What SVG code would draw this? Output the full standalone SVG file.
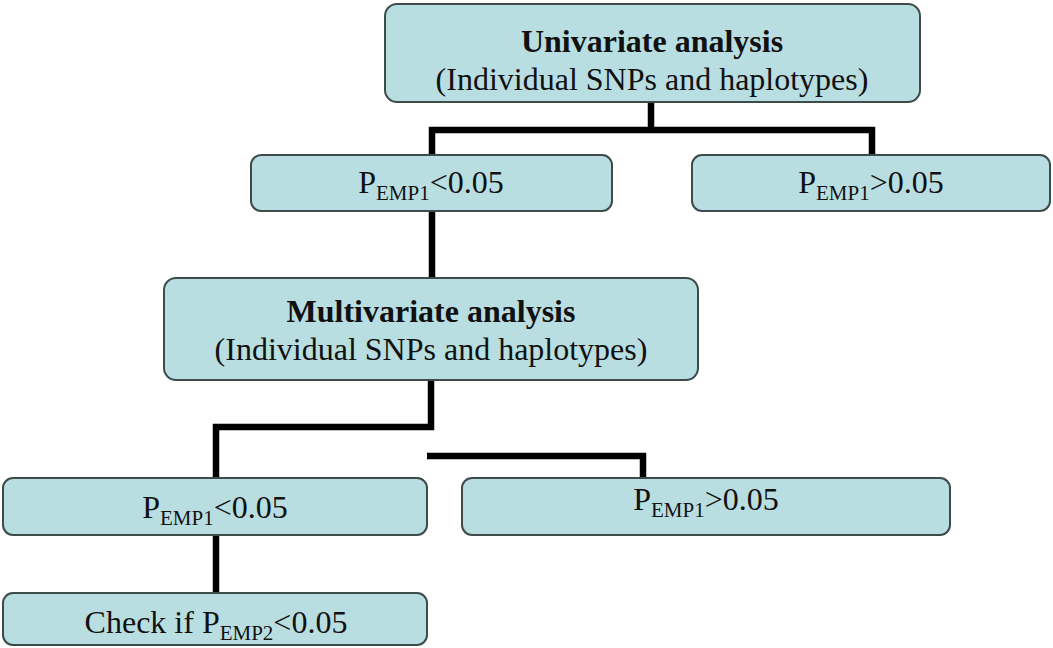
<svg xmlns="http://www.w3.org/2000/svg" width="1053" height="648" viewBox="0 0 1053 648">
<style>
.box{fill:#b9dee1;stroke:#3f4b4b;stroke-width:2}
.t{font-family:"Liberation Serif","Times New Roman",serif;font-size:32px;fill:#111;text-anchor:middle}
.b{font-weight:bold}
.sub{font-size:21px}
.c{fill:none;stroke:#000;stroke-width:6.5;stroke-linecap:butt;stroke-linejoin:miter}
</style>
<rect width="1053" height="648" fill="#fff"/>
<g id="connectors">
<path class="c" d="M432,278 V130 H872 V155 M651,102 V130"/>
<path class="c" d="M431,380 V427 H216 V478"/>
<path class="c" d="M427,456 H643 V478"/>
<path class="c" d="M216,535 V593"/>
</g>
<g id="univariate">
<rect class="box" x="385" y="4" width="535" height="98" rx="12"/>
<text class="t b" x="652" y="52">Univariate analysis</text>
<text class="t" x="652" y="90">(Individual SNPs and haplotypes)</text>
</g>
<g id="p1-lt">
<rect class="box" x="251" y="155" width="361" height="56" rx="10"/>
<text class="t" x="431" y="193">P<tspan class="sub" dy="7">EMP1</tspan><tspan dy="-7">&lt;0.05</tspan></text>
</g>
<g id="p1-gt">
<rect class="box" x="692" y="155" width="358" height="56" rx="10"/>
<text class="t" x="871" y="193">P<tspan class="sub" dy="7">EMP1</tspan><tspan dy="-7">&gt;0.05</tspan></text>
</g>
<g id="multivariate">
<rect class="box" x="164" y="278" width="534" height="102" rx="12"/>
<text class="t b" x="431" y="322">Multivariate analysis</text>
<text class="t" x="431" y="360">(Individual SNPs and haplotypes)</text>
</g>
<g id="p2-lt">
<rect class="box" x="3" y="478" width="424" height="57" rx="10"/>
<text class="t" x="215" y="518">P<tspan class="sub" dy="7">EMP1</tspan><tspan dy="-7">&lt;0.05</tspan></text>
</g>
<g id="p2-gt">
<rect class="box" x="462" y="478" width="488" height="57" rx="10"/>
<text class="t" x="706" y="510">P<tspan class="sub" dy="7">EMP1</tspan><tspan dy="-7">&gt;0.05</tspan></text>
</g>
<g id="check">
<rect class="box" x="3" y="593" width="424" height="52" rx="10"/>
<text class="t" x="216" y="633">Check if P<tspan class="sub" dy="7">EMP2</tspan><tspan dy="-7">&lt;0.05</tspan></text>
</g>
</svg>
